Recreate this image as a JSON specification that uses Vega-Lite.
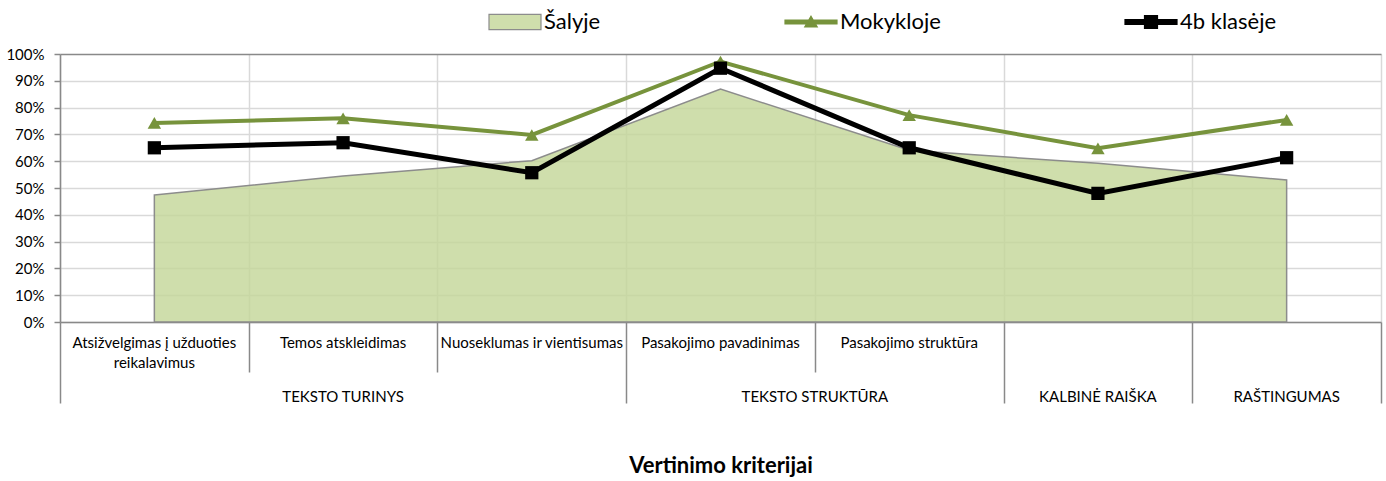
{
  "$schema": "https://vega.github.io/schema/vega-lite/v6.json",
  "width": 1321,
  "height": 268,
  "autosize": {"type": "none"},
  "padding": {"left": 60, "top": 54, "right": 5, "bottom": 159},
  "background": "white",
  "config": {
    "view": {"stroke": null},
    "axis": {"labelFont": "Lato", "labelFontSize": 15, "labelColor": "#000000", "titleFont": "Lato", "titleColor": "#000000"},
    "axisY": {
      "title": null, "format": ".0%", "labelOverlap": false,
      "tickSize": 6, "tickColor": "#898989", "tickWidth": 1.5, "labelPadding": 10,
      "domainColor": "#898989", "domainWidth": 1.5,
      "grid": true, "gridWidth": 1.5
    },
    "legend": {"labelFont": "Lato", "labelFontSize": 22, "labelColor": "#000000"}
  },
  "data": {
    "values": [
      {"kriterijus": "Atsižvelgimas į užduoties reikalavimus", "grupe": "TEKSTO TURINYS", "serija": "Šalyje", "reiksme": 0.474},
      {"kriterijus": "Temos atskleidimas", "grupe": "TEKSTO TURINYS", "serija": "Šalyje", "reiksme": 0.545},
      {"kriterijus": "Nuoseklumas ir vientisumas", "grupe": "TEKSTO TURINYS", "serija": "Šalyje", "reiksme": 0.602},
      {"kriterijus": "Pasakojimo pavadinimas", "grupe": "TEKSTO STRUKTŪRA", "serija": "Šalyje", "reiksme": 0.869},
      {"kriterijus": "Pasakojimo struktūra", "grupe": "TEKSTO STRUKTŪRA", "serija": "Šalyje", "reiksme": 0.641},
      {"kriterijus": "KALBINĖ RAIŠKA", "grupe": "KALBINĖ RAIŠKA", "serija": "Šalyje", "reiksme": 0.592},
      {"kriterijus": "RAŠTINGUMAS", "grupe": "RAŠTINGUMAS", "serija": "Šalyje", "reiksme": 0.530},
      {"kriterijus": "Atsižvelgimas į užduoties reikalavimus", "grupe": "TEKSTO TURINYS", "serija": "Mokykloje", "reiksme": 0.743},
      {"kriterijus": "Temos atskleidimas", "grupe": "TEKSTO TURINYS", "serija": "Mokykloje", "reiksme": 0.760},
      {"kriterijus": "Nuoseklumas ir vientisumas", "grupe": "TEKSTO TURINYS", "serija": "Mokykloje", "reiksme": 0.698},
      {"kriterijus": "Pasakojimo pavadinimas", "grupe": "TEKSTO STRUKTŪRA", "serija": "Mokykloje", "reiksme": 0.972},
      {"kriterijus": "Pasakojimo struktūra", "grupe": "TEKSTO STRUKTŪRA", "serija": "Mokykloje", "reiksme": 0.772},
      {"kriterijus": "KALBINĖ RAIŠKA", "grupe": "KALBINĖ RAIŠKA", "serija": "Mokykloje", "reiksme": 0.648},
      {"kriterijus": "RAŠTINGUMAS", "grupe": "RAŠTINGUMAS", "serija": "Mokykloje", "reiksme": 0.754},
      {"kriterijus": "Atsižvelgimas į užduoties reikalavimus", "grupe": "TEKSTO TURINYS", "serija": "4b klasėje", "reiksme": 0.650},
      {"kriterijus": "Temos atskleidimas", "grupe": "TEKSTO TURINYS", "serija": "4b klasėje", "reiksme": 0.669},
      {"kriterijus": "Nuoseklumas ir vientisumas", "grupe": "TEKSTO TURINYS", "serija": "4b klasėje", "reiksme": 0.557},
      {"kriterijus": "Pasakojimo pavadinimas", "grupe": "TEKSTO STRUKTŪRA", "serija": "4b klasėje", "reiksme": 0.947},
      {"kriterijus": "Pasakojimo struktūra", "grupe": "TEKSTO STRUKTŪRA", "serija": "4b klasėje", "reiksme": 0.650},
      {"kriterijus": "KALBINĖ RAIŠKA", "grupe": "KALBINĖ RAIŠKA", "serija": "4b klasėje", "reiksme": 0.480},
      {"kriterijus": "RAŠTINGUMAS", "grupe": "RAŠTINGUMAS", "serija": "4b klasėje", "reiksme": 0.613}
    ]
  },
  "layer": [
    {
      "transform": [{"filter": "datum.serija == 'Šalyje'"}],
      "mark": {"type": "point", "opacity": 0},
      "encoding": {
        "x": {
          "field": "kriterijus", "type": "nominal", "sort": null,
          "scale": {"type": "band", "paddingInner": 0, "paddingOuter": 0},
          "axis": {
            "orient": "bottom", "title": null, "labels": false, "domain": false, "ticks": true,
            "tickBand": "extent",
            "tickSize": {"condition": {"test": "!isValid(datum.value) || datum.index < 0 || datum.value == 'Nuoseklumas ir vientisumas' || datum.value == 'Pasakojimo struktūra' || datum.value == 'KALBINĖ RAIŠKA' || datum.value == 'RAŠTINGUMAS'", "value": 81}, "value": 50},
            "tickColor": "#898989", "tickWidth": 1.5,
            "grid": true, "gridColor": "#d9d9d9", "gridWidth": 1.5
          }
        }
      }
    },
    {
      "transform": [{"filter": "datum.serija == 'Šalyje'"}],
      "mark": {"type": "area", "color": "#c3d697", "fillOpacity": 0.8, "stroke": "#8c8c8c", "strokeWidth": 1.5},
      "encoding": {
        "x": {
          "field": "kriterijus", "type": "nominal", "sort": null,
          "scale": {"type": "band", "paddingInner": 0, "paddingOuter": 0},
          "axis": {
            "orient": "bottom", "title": null, "ticks": false, "grid": false,
            "domain": true, "domainColor": "#898989", "domainWidth": 1.5,
            "labelAngle": 0, "labelBaseline": "top", "labelPadding": 13, "labelLineHeight": 20, "labelLimit": 400,
            "labelExpr": "datum.value == 'Atsižvelgimas į užduoties reikalavimus' ? ['Atsižvelgimas į užduoties', 'reikalavimus'] : ((datum.value == 'KALBINĖ RAIŠKA' || datum.value == 'RAŠTINGUMAS') ? '' : datum.value)"
          }
        },
        "y": {
          "field": "reiksme", "type": "quantitative",
          "scale": {"domain": [0, 1], "nice": false},
          "axis": {
            "values": [0, 0.1, 0.2, 0.3, 0.4, 0.5, 0.6, 0.7, 0.8, 0.9, 1], "tickCount": 11, "labelOverlap": false,
            "gridColor": {"condition": {"test": "datum.value >= 1", "value": "#898989"}, "value": "#d9d9d9"}
          }
        }
      }
    },
    {
      "transform": [{"filter": "datum.serija == 'Mokykloje'"}],
      "mark": {"type": "line", "color": "#77933c", "strokeWidth": 4, "point": {"shape": "triangle-up", "size": 180, "color": "#77933c", "filled": true, "opacity": 1}},
      "encoding": {
        "x": {"field": "kriterijus", "type": "nominal", "sort": null, "scale": {"type": "band", "paddingInner": 0, "paddingOuter": 0}, "axis": null},
        "y": {"field": "reiksme", "type": "quantitative", "scale": {"domain": [0, 1], "nice": false},
          "axis": {
            "values": [0, 0.1, 0.2, 0.3, 0.4, 0.5, 0.6, 0.7, 0.8, 0.9, 1], "tickCount": 11, "labelOverlap": false,
            "gridColor": {"condition": {"test": "datum.value >= 1", "value": "#898989"}, "value": "#d9d9d9"}
          }}
      }
    },
    {
      "transform": [{"filter": "datum.serija == '4b klasėje'"}],
      "mark": {"type": "line", "color": "#000000", "strokeWidth": 5, "point": {"shape": "square", "size": 175, "color": "#000000", "filled": true, "opacity": 1}},
      "encoding": {
        "x": {"field": "kriterijus", "type": "nominal", "sort": null, "scale": {"type": "band", "paddingInner": 0, "paddingOuter": 0}, "axis": null},
        "y": {"field": "reiksme", "type": "quantitative", "scale": {"domain": [0, 1], "nice": false},
          "axis": {
            "values": [0, 0.1, 0.2, 0.3, 0.4, 0.5, 0.6, 0.7, 0.8, 0.9, 1], "tickCount": 11, "labelOverlap": false,
            "gridColor": {"condition": {"test": "datum.value >= 1", "value": "#898989"}, "value": "#d9d9d9"}
          }}
      }
    },
    {
      "transform": [{"filter": "datum.serija == 'Šalyje'"}],
      "mark": {"type": "point", "opacity": 0},
      "encoding": {
        "x": {
          "field": "kriterijus", "type": "nominal", "sort": null,
          "scale": {"type": "band", "paddingInner": 0, "paddingOuter": 0},
          "axis": {
            "orient": "bottom", "title": "Vertinimo kriterijai", "domain": false, "ticks": false, "grid": false,
            "labelAngle": 0, "labelBaseline": "top", "labelPadding": 67, "labelLimit": 400,
            "labelExpr": "datum.value == 'Temos atskleidimas' ? 'TEKSTO TURINYS' : (datum.value == 'Pasakojimo pavadinimas' ? 'TEKSTO STRUKTŪRA' : ((datum.value == 'KALBINĖ RAIŠKA' || datum.value == 'RAŠTINGUMAS') ? datum.value : ''))",
            "labelOffset": {"condition": {"test": "datum.value == 'Pasakojimo pavadinimas'", "value": 94.3}, "value": 0},
            "titleFontSize": 22, "titleFontWeight": "bold", "titlePadding": 51
          }
        }
      }
    },
    {
      "transform": [{"filter": "false"}],
      "mark": {"type": "point", "filled": true, "strokeWidth": 1.2, "opacity": 1},
      "encoding": {
        "fill": {
          "field": "serija", "type": "nominal",
          "scale": {"domain": ["Šalyje", "Mokykloje", "4b klasėje"], "range": ["#cfdeac", "#77933c", "#000000"]},
          "legend": {"orient": "none", "legendX": 428, "legendY": -59, "direction": "horizontal", "columns": 3, "columnPadding": 181, "title": null, "symbolSize": 2704, "labelOffset": 2, "padding": 0, "symbolStrokeWidth": 1.2}
        },
        "stroke": {
          "field": "serija", "type": "nominal",
          "scale": {"domain": ["Šalyje", "Mokykloje", "4b klasėje"], "range": ["#8c8c8c", "#77933c", "#000000"]},
          "legend": {"orient": "none", "legendX": 428, "legendY": -59, "direction": "horizontal", "columns": 3, "columnPadding": 181, "title": null, "symbolSize": 2704, "labelOffset": 2, "padding": 0, "symbolStrokeWidth": 1.2}
        },
        "shape": {
          "field": "serija", "type": "nominal",
          "scale": {"domain": ["Šalyje", "Mokykloje", "4b klasėje"], "range": ["M-1,-0.29H1V0.29H-1Z", "M-1,-0.077H1V0.077H-1Z M0,-0.22L0.24,0.19L-0.24,0.19Z", "M-1,-0.096H1V0.096H-1Z M-0.25,-0.25H0.25V0.25H-0.25Z"]},
          "legend": {"orient": "none", "legendX": 428, "legendY": -59, "direction": "horizontal", "columns": 3, "columnPadding": 181, "title": null, "symbolSize": 2704, "labelOffset": 2, "padding": 0, "symbolStrokeWidth": 1.2}
        }
      }
    }
  ],
  "resolve": {"scale": {"x": "independent"}, "axis": {"x": "independent"}}
}
